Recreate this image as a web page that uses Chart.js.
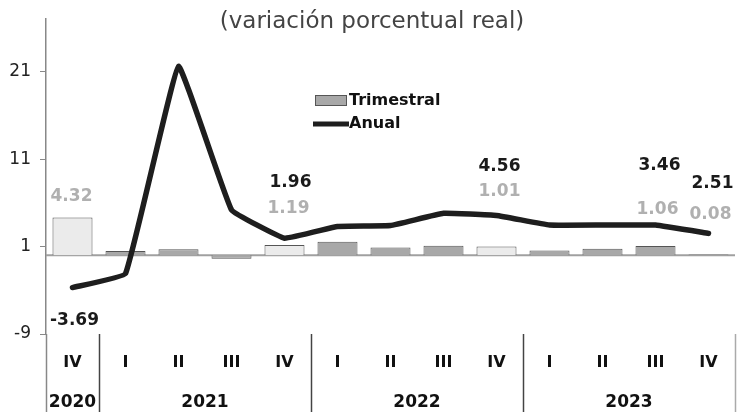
<!DOCTYPE html>
<html>
<head>
<meta charset="utf-8">
<script src="https://cdn.jsdelivr.net/npm/chart.js@4.4.0/dist/chart.umd.min.js"></script>
<style>
    html, body { margin: 0; padding: 0; background: #fff; }
</style>
</head>
<body>
<canvas id="chart" width="739" height="412"></canvas>
<script>
// Data
const quarters = ['IV', 'I', 'II', 'III', 'IV', 'I', 'II', 'III', 'IV', 'I', 'II', 'III', 'IV'];
const yearLabels = ['2020', '2021', '2022', '2023'];
const yearQuarterCounts = [1, 4, 4, 4];
const trimestral = [4.32, 0.5, 0.7, -0.4, 1.19, 1.55, 0.9, 1.1, 1.01, 0.55, 0.75, 1.06, 0.08];
const anual = [-3.69, -2.1, 21.6, 5.2, 1.96, 3.3, 3.4, 4.8, 4.56, 3.46, 3.46, 3.46, 2.51];
const yTicks = [-9, 1, 11, 21];
const lightBars = [0, 4, 8];

// label placement (px offsets from the line point, or from bar top when ref = 'bar')
const labelPlacement = [
    { i: 0,  line: [2, 33],  bar: [-1, -21], ref: 'bar' },
    { i: 4,  line: [6, -56], bar: [4, -30],  ref: 'line' },
    { i: 8,  line: [3, -49], bar: [3, -24],  ref: 'line' },
    { i: 11, line: [4, -59], bar: [2, -15],  ref: 'line' },
    { i: 12, line: [4, -50], bar: [2, -19],  ref: 'line' }
];

const FONT = '"DejaVu Sans", sans-serif';

const decor = {
    id: 'decor',
    beforeDatasetsDraw(chart) {
        const { ctx, chartArea, scales } = chart;
        const y0 = scales.y.getPixelForValue(0);
        ctx.save();
        ctx.strokeStyle = '#a0a0a0';
        ctx.lineWidth = 2;
        ctx.beginPath();
        ctx.moveTo(chartArea.left, y0);
        ctx.lineTo(chartArea.right, y0);
        ctx.stroke();
        ctx.restore();
    },
    afterDraw(chart) {
        const { ctx, chartArea, scales } = chart;
        const x = scales.x;
        const H = chart.height;
        ctx.save();

        // title
        ctx.fillStyle = '#444';
        ctx.font = '23px ' + FONT;
        ctx.textAlign = 'center';
        ctx.textBaseline = 'middle';
        ctx.fillText('(variación porcentual real)', 372, 22);

        // year separators + labels
        let start = 0;
        const edge = k => {
            if (k === 0) return chartArea.left;
            if (k === quarters.length) return chartArea.right;
            return (x.getPixelForValue(k - 1) + x.getPixelForValue(k)) / 2;
        };
        const bounds = [0];
        yearQuarterCounts.forEach(n => { start += n; bounds.push(start); });
        bounds.forEach((k, j) => {
            const px = Math.round(edge(k)) + 0.5;
            ctx.strokeStyle = (j === 0) ? '#888' : (j === bounds.length - 1 ? '#aaa' : '#444');
            ctx.lineWidth = 1.5;
            ctx.beginPath();
            ctx.moveTo(px, chartArea.bottom);
            ctx.lineTo(px, H);
            ctx.stroke();
        });
        ctx.fillStyle = '#111';
        ctx.font = 'bold 17px ' + FONT;
        yearLabels.forEach((yr, j) => {
            const a = bounds[j], b = bounds[j + 1] - 1;
            const cx = (x.getPixelForValue(a) + x.getPixelForValue(b)) / 2;
            ctx.fillText(yr, cx, 403);
        });

        // legend
        ctx.fillStyle = '#a8a8a8';
        ctx.strokeStyle = '#555';
        ctx.lineWidth = 1;
        ctx.fillRect(315.5, 95.5, 31, 10);
        ctx.strokeRect(315.5, 95.5, 31, 10);
        ctx.strokeStyle = '#1e1e1e';
        ctx.lineWidth = 5;
        ctx.beginPath();
        ctx.moveTo(313, 124);
        ctx.lineTo(349, 124);
        ctx.stroke();
        ctx.fillStyle = '#111';
        ctx.font = 'bold 16px ' + FONT;
        ctx.textAlign = 'left';
        ctx.fillText('Trimestral', 349, 101);
        ctx.fillText('Anual', 349, 124);

        // data labels
        const lineMeta = chart.getDatasetMeta(0).data;
        const barMeta = chart.getDatasetMeta(1).data;
        ctx.font = 'bold 17px ' + FONT;
        ctx.textAlign = 'center';
        labelPlacement.forEach(p => {
            const pt = lineMeta[p.i];
            const bar = barMeta[p.i];
            ctx.fillStyle = '#1a1a1a';
            ctx.fillText(anual[p.i].toFixed(2), pt.x + p.line[0], pt.y + p.line[1]);
            const refY = p.ref === 'bar' ? bar.y : pt.y;
            ctx.fillStyle = '#b0b0b0';
            ctx.fillText(trimestral[p.i].toFixed(2), pt.x + p.bar[0], refY + p.bar[1]);
        });
        ctx.restore();
    }
};

new Chart(document.getElementById('chart'), {
    data: {
        labels: quarters,
        datasets: [
            {
                type: 'line',
                label: 'Anual',
                data: anual,
                borderColor: '#1e1e1e',
                borderWidth: 5.5,
                pointRadius: 0,
                tension: 0.08,
                borderCapStyle: 'round',
                borderJoinStyle: 'round',
                order: 0
            },
            {
                type: 'bar',
                label: 'Trimestral',
                data: trimestral,
                backgroundColor: trimestral.map((v, i) => lightBars.includes(i) ? '#ebebeb' : '#a8a8a8'),
                borderColor: '#555',
                borderWidth: 1,
                barPercentage: 0.755,
                categoryPercentage: 1,
                order: 1
            }
        ]
    },
    options: {
        responsive: false,
        animation: false,
        layout: { padding: { top: 15, right: 4, left: 0, bottom: 0 } },
        plugins: {
            legend: { display: false },
            tooltip: { enabled: false }
        },
        scales: {
            x: {
                grid: { display: false, drawTicks: false },
                border: { display: false },
                ticks: { color: '#111', font: { family: FONT, size: 16, weight: 'bold' }, padding: 19, maxRotation: 0 },
                afterFit: s => { s.height = 78; }
            },
            y: {
                min: -9,
                max: 27,
                afterBuildTicks: s => { s.ticks = yTicks.map(v => ({ value: v })); },
                grid: { drawOnChartArea: false, drawTicks: true, tickLength: 6, color: '#888' },
                border: { display: true, color: '#888', width: 1.5 },
                ticks: { color: '#222', font: { family: FONT, size: 17 }, padding: 9 },
                afterFit: s => { s.width = 46; }
            }
        }
    },
    plugins: [decor]
});
</script>
</body>
</html>
